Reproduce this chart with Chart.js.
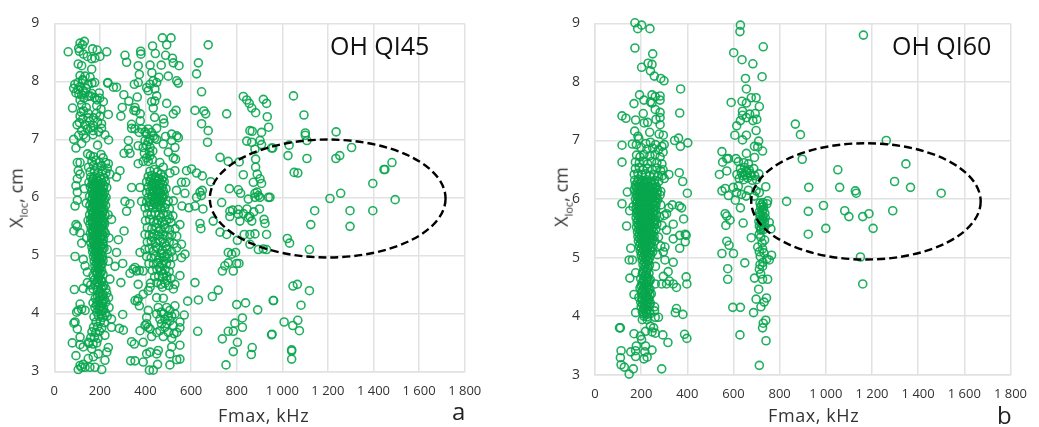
<!DOCTYPE html>
<html>
<head>
<meta charset="utf-8">
<title>OH QI45 / OH QI60</title>
<script src="https://cdn.jsdelivr.net/npm/chart.js@4/dist/chart.umd.min.js"></script>
<style>
  html, body { margin: 0; background: #fff; }
  #page { position: relative; width: 1039px; height: 427px; overflow: hidden; font-family: "Open Sans", sans-serif; color: #262626; }
  canvas { position: absolute; top: 0; filter: blur(0.35px); }
  .lbl { position: absolute; white-space: nowrap; }
  .name { font-size: 25px; color: #111; }
  .axis-x { font-size: 18px; letter-spacing: 0.6px; color: #333; }
  .axis-y { font-size: 18px; color: #333; transform: translate(-50%, -50%) rotate(-90deg); }
  .axis-y sub { font-size: 11px; }
  .panel { font-size: 24px; color: #222; }
</style>
</head>
<body>
<div id="page">
  <canvas id="chartA" style="left:0"></canvas>
  <canvas id="chartB" style="left:540px"></canvas>
  <div class="lbl name" style="left:330px;top:28px">OH QI45</div>
  <div class="lbl name" style="left:892px;top:28px">OH QI60</div>
  <div class="lbl axis-y" style="left:17px;top:198px">X<sub>loc</sub>, cm</div>
  <div class="lbl axis-y" style="left:562px;top:197px">X<sub>loc</sub>, cm</div>
  <div class="lbl axis-x" style="left:218px;top:403px">Fmax, kHz</div>
  <div class="lbl axis-x" style="left:768px;top:403px">Fmax, kHz</div>
  <div class="lbl panel" style="left:452px;top:394px">a</div>
  <div class="lbl panel" style="left:997px;top:398px">b</div>
</div>
<script>
const xTicks = ['0', '200', '400', '600', '800', '1 000', '1 200', '1 400', '1 600', '1 800'];
const yTicks = [3, 4, 5, 6, 7, 8, 9];

// points, [Fmax kHz, Xloc cm]
const qi45LeftTop = [[113,8.66],[132,8.69],[107,8.57],[124,8.63],[168,8.56],[188,8.54],[230,8.51],[61,8.51],[110,8.52],[128,8.47],[145,8.43],[164,8.39],[200,8.43],[178,8.4],[105,8.3],[120,8.27],[164,8.21],[113,8.1],[135,8.09],[157,8.07],[124,8.03],[90,7.95],[85,7.88],[104,7.98],[126,8.01],[148,7.95],[165,7.97],[177,7.98],[235,7.98],[104,7.86],[126,7.84],[113,7.91],[140,7.88],[95,7.8],[120,7.77],[135,7.8],[150,7.74],[177,7.72],[165,7.79],[199,7.71],[188,7.68],[215,7.65],[113,7.68],[120,7.6],[80,7.54],[128,7.49],[186,7.58],[205,7.52],[140,7.55],[113,7.4],[150,7.37],[200,7.4],[237,7.43],[172,7.37],[125,7.35],[100,7.25],[134,7.25],[110,7.29],[170,7.24],[207,7.27],[155,7.31],[190,7.3],[120,7.15],[170,7.15],[207,7.19],[145,7.18],[85,7],[107,7.07],[128,7.08],[170,7.08],[222,7.08],[95,6.85],[120,6.93],[190,6.9],[238,6.99],[158,7.75],[197,7.8],[108,7.78],[130,7.71],[148,7.45],[185,7.45],[118,7.47],[160,7.2],[195,7.13],[138,7.02]];
const qi45Core = [[146,6.75],[158,6.72],[172,6.7],[205,6.74],[214,6.68],[225,6.6],[165,6.62],[183,6.64],[198,6.6],[150,6.52],[172,6.55],[190,6.52],[208,6.54],[232,6.5],[157,6.44],[176,6.46],[193,6.42],[211,6.45],[226,6.42],[160,6.35],[174,6.36],[186,6.33],[200,6.36],[218,6.34],[152,6.26],[168,6.28],[181,6.25],[195,6.27],[210,6.25],[224,6.27],[158,6.18],[172,6.2],[186,6.17],[199,6.19],[214,6.16],[164,6.1],[177,6.12],[190,6.09],[204,6.11],[220,6.08],[155,6.02],[170,6.04],[183,6.01],[197,6.03],[212,6],[162,5.94],[176,5.95],[189,5.93],[203,5.96],[218,5.92],[156,5.86],[170,5.87],[183,5.85],[196,5.87],[210,5.84],[225,5.86],[162,5.78],[175,5.8],[188,5.77],[201,5.79],[215,5.76],[155,5.7],[168,5.71],[181,5.69],[194,5.71],[207,5.68],[222,5.7],[160,5.62],[174,5.63],[187,5.61],[200,5.63],[214,5.6],[156,5.54],[169,5.55],[182,5.53],[195,5.55],[208,5.52],[221,5.54],[162,5.46],[176,5.47],[189,5.45],[202,5.47],[215,5.44],[158,5.38],[171,5.39],[184,5.37],[197,5.39],[210,5.36],[224,5.38],[164,5.3],[177,5.31],[190,5.29],[203,5.31],[216,5.28],[160,5.22],[173,5.23],[186,5.21],[199,5.23],[212,5.2],[165,5.14],[178,5.15],[191,5.13],[204,5.15],[218,5.12],[168,5.06],[181,5.07],[194,5.05],[207,5.07],[172,4.98],[185,4.99],[198,4.97],[211,4.99],[175,4.9],[188,4.91],[201,4.89],[214,4.91],[178,4.82],[191,4.83],[204,4.81],[181,4.74],[194,4.75],[208,4.73],[170,4.66],[186,4.67],[199,4.65],[214,4.67],[176,4.58],[192,4.59],[205,4.57],[160,4.49],[180,4.5],[198,4.51],[218,4.48],[170,4.42],[188,4.41],[206,4.43],[226,4.42],[196,4.34],[214,4.33],[230,4.35],[180,4.26],[200,4.27],[220,4.25],[238,4.27],[170,4.18],[188,4.19],[208,4.17],[226,4.19],[178,4.1],[197,4.11],[216,4.09],[240,4.1],[186,4.02],[205,4.03],[224,4.01],[174,3.94],[194,3.95],[213,3.93],[232,3.95],[183,3.85],[202,3.86],[220,3.84],[172,3.76],[190,3.77],[208,3.75],[165,3.68],[182,3.67],[198,3.69],[160,3.58],[176,3.59],[192,3.57],[152,3.48],[170,3.47],[186,3.49]];
const qi45CoreFill = [[170,6.32],[188,6.29],[205,6.31],[166,6.23],[176,6.22],[191,6.21],[203,6.23],[218,6.2],[168,6.14],[182,6.13],[196,6.15],[209,6.12],[175,6.06],[186,6.05],[201,6.07],[214,6.04],[166,5.98],[180,5.99],[193,5.97],[207,5.99],[220,5.97],[172,5.9],[183,5.89],[197,5.91],[210,5.89],[166,5.82],[179,5.83],[192,5.81],[205,5.83],[218,5.8],[170,5.74],[184,5.75],[197,5.73],[211,5.74],[166,5.66],[177,5.67],[190,5.65],[203,5.67],[216,5.64],[167,5.58],[180,5.59],[193,5.57],[206,5.59],[218,5.57],[172,5.5],[185,5.51],[198,5.49],[212,5.51],[167,5.42],[180,5.43],[193,5.41],[206,5.43],[219,5.41],[174,5.34],[187,5.35],[200,5.33],[213,5.34],[170,5.26],[183,5.27],[196,5.25],[209,5.27],[175,5.18],[188,5.19],[201,5.17],[214,5.19],[172,5.1],[185,5.11],[198,5.09],[211,5.11],[178,5.02],[191,5.03],[204,5.01],[182,4.95],[195,4.94],[208,4.95],[184,4.86],[197,4.87],[210,4.85],[187,4.78],[200,4.77],[189,4.7],[202,4.69],[196,4.62],[186,4.53],[208,4.54],[192,4.45],[212,4.46],[204,4.37],[190,4.3],[210,4.29],[196,4.22],[214,4.21],[186,4.14],[204,4.13],[196,4.06],[214,4.05],[206,3.98]];
const qi45LeftSide = [[101,6.6],[113,6.6],[105,6.46],[101,6.32],[113,6.4],[95,6.2],[101,6.09],[101,5.95],[91,5.85],[237,6.58],[244,6.4],[230,6.17],[227,6],[95,5.53],[101,5.5],[86,5.42],[113,5.39],[120,5.21],[91,4.98],[127,4.93],[135,4.82],[145,4.71],[88,4.41],[127,4.43],[145,4.53],[156,4.39],[113,4.16],[105,4.05],[120,4.07],[98,4.02],[135,4.05],[91,3.85],[86,3.83],[101,3.73],[79,3.49],[113,3.59],[113,3.46],[127,3.42],[149,3.5],[164,3.39],[95,3.27],[113,3.1],[127,3.12],[105,3.03],[120,3.07],[135,3.07],[156,3.07],[178,3.07],[208,3.03],[149,3.22],[171,3.25],[193,3.3],[222,3.19],[230,3.33],[237,3.41],[222,3.62],[251,3.76],[251,3.9],[300,3.98],[285,3.74],[303,3.71],[273,5.05],[300,4.86],[266,4.81],[292,4.53],[244,4.59],[281,5.27],[306,5.42],[251,5.62],[317,5.76],[237,4.9],[273,6.35],[288,6.46],[140,5.9],[132,6.15],[236,5.7],[240,5.3],[232,5.1],[148,5.6],[142,5.3]];
const qi45MidTop = [[310,8.45],[317,8.33],[379,8.52],[380,8.47],[368,8.27],[373,8.12],[420,8.28],[431,8.61],[443,8.48],[474,8.75],[512,8.75],[493,8.63],[488,8.45],[518,8.4],[522,8.32],[547,8.27],[469,8.28],[428,8.15],[500,8.09],[459,8.07],[537,8.01],[544,7.97],[351,7.95],[368,7.98],[405,7.89],[420,7.95],[434,8.01],[449,7.98],[441,7.87],[412,7.84],[305,7.77],[327,7.66],[364,7.73],[273,7.9],[234,7.97],[259,7.9],[449,7.75],[427,7.65],[441,7.66],[493,7.62],[298,7.55],[354,7.55],[358,7.49],[349,7.5],[434,7.54],[534,7.5],[522,7.44],[292,7.4],[377,7.44],[440,7.38],[478,7.35],[481,7.28],[377,7.32],[339,7.26],[339,7.19],[354,7.18],[383,7.18],[412,7.18],[449,7.19],[373,7.12],[405,7.09],[434,7.06],[420,7],[449,7],[515,7.09],[488,7.05],[537,7.06],[544,7.03],[515,6.98],[478,6.92],[325,6.98],[325,6.83],[306,6.76],[332,6.76],[368,6.89],[390,6.86],[405,6.9],[420,6.86],[529,6.86],[500,6.78],[522,6.68],[532,6.66],[395,6.76],[405,6.68],[420,6.72],[412,6.62],[390,6.62],[430,6.65],[398,7.13],[426,7.12],[440,7.02],[412,6.96],[432,6.8],[398,6.98],[418,6.78]];
const qi45MidCluster = [[368,6.58],[376,6.17],[383,5.93],[339,6.17],[310,5.93],[332,5.89],[507,6.42],[529,6.46],[522,5.94],[478,6],[500,5.94],[463,6.6],[478,6.52],[420,6.45],[438,6.48],[452,6.44],[468,6.4],[412,6.36],[428,6.38],[445,6.35],[460,6.33],[478,6.35],[405,6.27],[420,6.28],[435,6.26],[450,6.28],[465,6.25],[482,6.27],[412,6.18],[427,6.2],[442,6.17],[457,6.19],[472,6.16],[490,6.15],[405,6.08],[420,6.1],[435,6.08],[450,6.09],[465,6.07],[482,6.05],[412,6],[428,6.01],[443,5.99],[458,6],[473,5.98],[405,5.92],[420,5.92],[436,5.91],[452,5.93],[468,5.9],[490,5.88],[398,5.82],[415,5.84],[432,5.82],[450,5.83],[466,5.81],[484,5.82],[505,5.8],[426,6.32],[442,6.3],[456,6.32],[472,6.3],[432,6.22],[447,6.23],[461,6.21],[476,6.22],[434,6.14],[449,6.13],[463,6.12],[478,6.11],[428,6.05],[443,6.04],[457,6.05],[471,6.03],[438,5.96],[453,5.97],[466,5.95],[426,5.87],[444,5.88],[460,5.87]];
const qi45MidLow = [[408,5.72],[425,5.7],[442,5.74],[460,5.7],[478,5.72],[498,5.7],[520,5.68],[400,5.6],[418,5.62],[436,5.58],[455,5.6],[474,5.57],[492,5.6],[512,5.57],[551,5.53],[408,5.48],[428,5.46],[448,5.48],[466,5.45],[486,5.47],[505,5.44],[530,5.46],[398,5.36],[416,5.35],[437,5.37],[456,5.34],[476,5.36],[496,5.33],[515,5.35],[537,5.33],[408,5.23],[425,5.25],[445,5.22],[464,5.24],[484,5.21],[504,5.23],[524,5.2],[537,5.13],[558,5.19],[376,5.05],[398,5.1],[416,5.12],[436,5.08],[454,5.12],[474,5.09],[494,5.11],[514,5.07],[573,5.02],[558,4.96],[405,4.98],[425,4.96],[444,4.99],[463,4.96],[483,4.98],[503,4.95],[522,4.97],[415,4.86],[435,4.85],[454,4.87],[472,4.84],[492,4.86],[510,4.84],[332,4.69],[346,4.76],[354,4.79],[361,4.73],[373,4.74],[390,4.73],[430,4.74],[450,4.76],[468,4.73],[486,4.75],[504,4.72],[551,4.65],[440,4.63],[458,4.64],[476,4.62],[494,4.64],[512,4.6],[368,4.5],[422,4.52],[450,4.53],[468,4.5],[486,4.52],[502,4.48],[529,4.5],[522,4.42],[390,4.33],[412,4.39],[420,4.45],[449,4.27],[478,4.26],[354,4.22],[368,4.25],[373,4.13],[364,4.21],[468,5.65],[484,5.53],[458,5.41],[476,5.28],[490,5.16],[470,5.03],[480,4.91],[462,4.79],[478,4.68],[494,4.57],[474,4.45],[458,4.92],[497,5.02],[445,5.15],[430,5.31],[450,5.55],[505,5.63]];
const qi45MidBottom = [[339,3.51],[351,3.47],[335,3.18],[354,3.18],[390,3.5],[376,3.7],[390,3.16],[417,3.02],[434,3.02],[453,3.12],[456,3.36],[449,3.3],[420,3.33],[405,3.3],[507,3.11],[507,3.3],[551,3.21],[537,3.2],[551,3.45],[515,3.42],[525,3.65],[551,3.75],[537,3.67],[515,3.57],[478,3.6],[427,3.6],[412,3.76],[398,3.79],[405,3.82],[420,3.73],[449,3.67],[463,3.7],[485,3.76],[500,3.67],[522,3.79],[551,3.85],[570,3.97],[529,3.99],[529,4.13],[507,4.05],[493,4.1],[478,3.99],[463,3.9],[485,3.9],[507,3.87],[493,3.82],[456,4.1],[449,3.99],[412,4.05],[405,3.93],[470,3.82],[500,3.95],[515,3.95],[470,4.02]];
const qi45Right = [[632,8.32],[624,8.13],[675,8.63],[646,7.82],[617,7.5],[656,7.49],[664,7.44],[646,7.27],[675,7.15],[672,6.95],[756,7.44],[829,7.74],[844,7.68],[855,7.62],[866,7.54],[883,7.46],[917,7.69],[931,7.62],[934,7.39],[940,7.21],[909,7.12],[858,7.15],[868,7.14],[844,6.97],[866,6.95],[902,6.98],[909,6.91],[880,6.83],[953,6.85],[727,6.69],[763,6.62],[811,6.61],[883,6.66],[883,6.52],[829,6.39],[890,6.4],[902,6.32],[909,6.24],[873,6.26],[686,6.27],[768,6.15],[807,6.13],[817,6.07],[890,6.09],[880,6],[902,6],[939,6],[851,5.97],[734,5.91],[770,5.76],[807,5.79],[895,6.03],[880,6.07],[580,6.46],[602,6.49],[624,6.42],[649,6.37],[558,6.26],[576,6.26],[536,6.12],[573,6.07],[639,6.09],[649,6.12],[624,6],[645,6.03],[560,5.85],[617,5.85],[590,5.82],[652,5.8],[617,4.53],[585,4.21],[632,4.23],[693,4.29],[719,4.4],[629,3.69],[737,3.56],[763,3.69],[785,3.69],[792,3.83],[825,3.92],[825,3.76],[803,3.5],[785,3.34],[868,3.41],[864,3.29],[753,3.11],[800,4.15],[839,4.18],[892,4.06],[960,4.22],[953,3.63],[763,5.05],[778,5.02],[795,5.05],[763,4.87],[748,4.82],[737,4.73],[785,4.73],[800,4.86],[810,4.86],[639,5.55],[643,5.46],[697,5.59],[727,5.4],[756,5.36],[770,5.67],[807,5.71],[858,5.67],[803,5.26],[833,5.36],[858,5.36],[880,5.37],[931,5.36],[924,5.55],[917,5.11],[931,5.1],[895,5.1],[858,5.19],[851,5.65],[866,5.59],[814,5.59],[782,5.78],[830,5.72],[875,5.75],[900,5.8],[920,5.62],[845,5.8]];
const qi45Ellipse = [[1049,7.75],[1095,7.42],[1101,7.11],[1101,7.07],[1108,6.98],[1236,7.13],[1030,6.9],[1304,6.86],[958,6.85],[1025,6.72],[1108,6.67],[1235,6.67],[1252,6.72],[1481,6.6],[1446,6.48],[1450,6.48],[1052,6.43],[1068,6.42],[1397,6.24],[1256,6.07],[1209,5.98],[946,6],[1495,5.96],[1297,5.77],[1397,5.77],[1142,5.77],[1125,5.53],[1297,5.5],[1022,5.29],[1032,5.21],[1119,5.1],[1047,4.47],[1066,4.5],[1119,4.39],[962,4.22],[1082,4.14],[1008,3.85],[1068,3.88],[1046,3.79],[1075,3.7],[955,3.64],[1041,3.37],[1041,3.35],[1041,3.21]];

const qi60LeftTop = [[173,9.01],[202,8.97],[185,8.91],[238,8.91],[173,8.58],[250,8.48],[230,8.32],[247,8.3],[202,8.25],[240,8.19],[257,8.1],[285,8.06],[299,8.02],[371,7.88],[193,7.78],[247,7.78],[282,7.76],[169,7.63],[212,7.69],[240,7.66],[261,7.75],[282,7.69],[247,7.64],[261,7.53],[282,7.48],[367,7.47],[209,7.46],[117,7.42],[134,7.38],[176,7.35],[264,7.36],[282,7.39],[213,7.3],[228,7.31],[282,7.27],[172,7.16],[237,7.14],[278,7.11],[296,7.09],[186,7.07],[190,7.03],[362,7.04],[345,7],[370,6.9],[402,6.96],[117,6.92],[162,6.94],[179,6.93],[117,6.63],[220,6.95],[240,6.97],[262,6.93],[290,6.9],[300,6.93],[200,6.88],[225,6.85],[250,6.87],[275,6.84],[295,6.8],[180,6.75],[195,6.72],[212,6.76],[238,6.74],[260,6.76],[282,6.72],[175,6.63],[192,6.62],[210,6.65],[228,6.6],[245,6.64],[268,6.62],[290,6.6],[365,6.45],[380,6.3],[400,6.1],[320,6.42],[295,6.5],[300,6.35]];
const qi60Core = [[175,6.52],[192,6.54],[208,6.5],[228,6.52],[248,6.5],[268,6.53],[285,6.48],[170,6.42],[186,6.44],[202,6.41],[220,6.43],[238,6.4],[256,6.42],[275,6.39],[292,6.4],[172,6.32],[188,6.34],[205,6.31],[222,6.33],[240,6.3],[258,6.32],[276,6.3],[175,6.24],[190,6.25],[205,6.23],[220,6.25],[235,6.22],[250,6.24],[266,6.21],[170,6.16],[184,6.17],[198,6.15],[212,6.17],[226,6.14],[240,6.16],[254,6.13],[270,6.15],[285,6.13],[178,6.08],[192,6.09],[206,6.07],[220,6.09],[234,6.06],[248,6.08],[262,6.05],[282,6.07],[175,6],[188,6.01],[202,5.99],[216,6.01],[230,5.98],[244,6],[258,5.97],[272,5.99],[180,5.92],[194,5.93],[208,5.91],[222,5.93],[236,5.9],[250,5.92],[264,5.89],[178,5.84],[192,5.85],[206,5.83],[220,5.85],[234,5.82],[248,5.84],[262,5.81],[180,5.76],[194,5.77],[208,5.75],[222,5.77],[236,5.74],[250,5.76],[266,5.73],[178,5.68],[192,5.69],[206,5.67],[220,5.69],[234,5.66],[248,5.68],[262,5.65],[182,5.6],[196,5.61],[210,5.59],[224,5.61],[238,5.58],[252,5.6],[268,5.57],[180,5.52],[194,5.53],[208,5.51],[222,5.53],[236,5.5],[250,5.52],[264,5.49],[184,5.44],[198,5.45],[212,5.43],[226,5.45],[240,5.42],[254,5.44],[186,5.36],[200,5.37],[214,5.35],[228,5.37],[242,5.34],[256,5.36],[188,5.28],[202,5.29],[216,5.27],[230,5.29],[244,5.26],[258,5.28],[192,5.2],[206,5.21],[220,5.19],[234,5.21],[248,5.18],[196,5.12],[210,5.13],[224,5.11],[238,5.13],[250,5.1],[200,5.04],[214,5.05],[228,5.03],[242,5.05],[204,4.96],[218,4.97],[232,4.95],[208,4.88],[222,4.89],[236,4.87],[212,4.8],[226,4.79],[205,4.72],[220,4.71],[234,4.73],[198,4.64],[212,4.63],[226,4.65],[240,4.62],[204,4.56],[218,4.55],[232,4.57],[195,4.48],[210,4.47],[224,4.49],[238,4.46],[202,4.4],[216,4.39],[230,4.41],[244,4.38],[190,4.32],[205,4.31],[220,4.33],[234,4.3],[198,4.24],[212,4.23],[226,4.25],[240,4.22],[200,4.16],[214,4.15],[230,4.17],[205,4.08],[220,4.07],[236,4.09],[212,4],[226,3.99]];
const qi60CoreFill = [[183,6.28],[198,6.28],[213,6.27],[228,6.28],[244,6.27],[259,6.26],[177,6.2],[191,6.21],[205,6.19],[219,6.21],[233,6.19],[247,6.2],[261,6.18],[184,6.12],[198,6.12],[212,6.11],[226,6.12],[240,6.1],[255,6.11],[269,6.1],[182,6.04],[196,6.05],[209,6.03],[223,6.05],[237,6.03],[251,6.04],[265,6.02],[182,5.96],[195,5.97],[209,5.95],[223,5.96],[237,5.94],[250,5.96],[264,5.94],[187,5.88],[201,5.89],[215,5.87],[229,5.89],[243,5.87],[257,5.88],[186,5.8],[199,5.81],[213,5.79],[227,5.81],[241,5.79],[255,5.8],[186,5.72],[200,5.73],[214,5.71],[228,5.73],[242,5.71],[256,5.72],[186,5.64],[200,5.65],[214,5.63],[228,5.65],[242,5.63],[257,5.64],[188,5.56],[202,5.57],[216,5.55],[230,5.57],[244,5.55],[258,5.56],[190,5.48],[204,5.49],[218,5.47],[232,5.49],[246,5.47],[192,5.4],[206,5.41],[220,5.39],[234,5.41],[248,5.39],[194,5.32],[208,5.33],[222,5.31],[236,5.33],[250,5.31],[196,5.24],[210,5.25],[224,5.23],[238,5.25],[200,5.16],[214,5.17],[228,5.15],[242,5.17],[204,5.08],[218,5.09],[232,5.07],[208,5],[222,5.01],[236,4.99],[214,4.92],[228,4.93],[216,4.84],[230,4.83],[208,4.76],[222,4.75],[214,4.68],[228,4.67],[208,4.6],[222,4.59],[236,4.6],[200,4.52],[214,4.51],[228,4.53],[204,4.44],[218,4.43],[232,4.45],[210,4.36],[224,4.35],[238,4.36],[204,4.28],[218,4.27],[232,4.28],[206,4.2],[220,4.19],[236,4.2],[212,4.12],[226,4.11],[210,4.04],[224,4.03],[238,4.04]];
const qi60LeftSide = [[106,3.8],[110,3.8],[113,3.41],[110,3.29],[113,3.17],[127,3.13],[166,3.1],[148,3.01],[289,3.1],[155,3.39],[179,3.49],[176,3.41],[176,3.31],[219,3.49],[216,3.39],[212,3.27],[226,3.3],[247,3.42],[169,3.7],[197,3.66],[202,3.6],[219,3.74],[240,3.83],[254,3.8],[247,3.73],[261,3.71],[294,3.68],[316,3.55],[388,3.69],[398,3.62],[205,3.94],[226,3.94],[261,3.98],[275,3.98],[176,4.06],[258,4.16],[258,4.09],[353,4.13],[348,4.06],[381,4.03],[395,4.67],[398,4.55],[353,4.49],[339,4.55],[322,4.6],[317,4.76],[296,4.68],[310,4.55],[289,4.55],[261,4.55],[339,4.92],[303,4.96],[296,5.1],[303,5.18],[367,5.16],[391,5.27],[395,5.38],[367,5.38],[391,5.4],[339,5.32],[339,5.57],[310,5.47],[384,5.66],[137,5.54],[155,5.16],[148,4.96],[162,4.96],[176,4.74],[151,4.65],[169,4.37],[117,5.92],[140,6.12],[165,5.87],[150,5.8],[285,5.9],[300,5.72],[320,5.85],[335,5.9],[365,5.88],[375,5.85],[290,5.55],[275,5.35],[285,5.2],[270,5.05],[262,4.85],[280,5.7],[310,5.75]];
const qi60Mid = [[630,8.97],[628,8.86],[601,8.5],[729,8.6],[637,8.38],[684,8.31],[652,8.06],[724,8.09],[656,7.88],[590,7.65],[637,7.67],[656,7.64],[677,7.73],[698,7.73],[712,7.58],[639,7.5],[639,7.43],[630,7.34],[656,7.39],[670,7.45],[694,7.46],[684,7.34],[701,7.36],[614,7.25],[698,7.17],[606,7.09],[656,7.09],[639,7.01],[709,6.99],[691,6.9],[705,6.89],[726,6.82],[656,6.78],[550,6.81],[571,6.69],[578,6.69],[611,6.69],[621,6.64],[553,6.63],[691,6.71],[571,6.48],[539,6.42],[645,6.62],[665,6.6],[630,6.52],[648,6.54],[668,6.5],[688,6.52],[615,6.42],[634,6.45],[652,6.41],[672,6.44],[692,6.4],[710,6.43],[625,6.35],[644,6.33],[662,6.36],[682,6.32],[550,6.14],[564,6.18],[578,6.06],[599,6.2],[614,6.11],[635,6.08],[621,6.22],[630,5.85],[564,5.75],[740,6.21],[748,5.97],[745,5.92],[698,6.14],[712,6.11],[571,5.71],[585,5.64],[567,5.55],[642,5.59],[571,5.28],[581,5.21],[550,5.07],[600,5.07],[575,4.81],[649,4.91],[575,4.63],[597,4.15],[630,4.15],[628,3.68],[677,5.34],[712,3.16],[741,3.58],[726,3.8],[729,3.88],[740,3.93],[687,4.06],[719,4.16],[733,4.24],[743,4.31],[698,4.29],[709,4.46],[691,4.65],[726,4.63],[748,4.63],[755,4.96],[765,5.04],[745,4.98],[712,4.8],[726,4.85],[718,4.72],[705,5.18],[712,5.1],[726,5.15],[762,5.49],[755,5.6],[728,4.92],[715,4.88],[735,5.3],[712,5.4],[718,5.47],[730,5.48],[712,5.54],[724,5.56],[736,5.53],[710,5.62],[722,5.64],[734,5.61],[715,5.7],[727,5.71],[738,5.68],[712,5.78],[724,5.79],[736,5.76],[718,5.86],[730,5.87],[715,5.93],[728,5.94],[608,5.98],[665,6.15],[655,6.05],[690,6.05],[655,6.48],[675,6.4],[640,6.4],[660,6.45],[700,6.33],[718,5.5],[720,5.6],[728,5.66],[716,5.74],[730,5.82],[722,5.9],[718,5.35],[724,5.25],[716,5.02],[732,5.08]];
const qi60Ellipse = [[1163,8.8],[868,7.28],[890,7.1],[1262,7.0],[898,6.68],[1052,6.5],[1347,6.6],[1298,6.3],[1367,6.2],[1128,6.14],[1132,6.1],[1500,6.1],[926,6.2],[1060,6.2],[830,5.96],[990,5.89],[924,5.79],[1082,5.8],[1100,5.7],[1160,5.7],[1187,5.75],[1290,5.8],[1000,5.5],[1205,5.5],[924,5.4],[1150,5.01],[1160,4.55]];

// excel style light grid and green open circles
const gridColor = '#e2e2e2';
const pointColor = 'rgba(8,166,78,0.9)';

// dashed ellipse given in data units, goes through the chart's scales
const ellipsePlugin = {
    id: 'dashedEllipse',
    afterDatasetsDraw(chart, args, opts) {
        const { x, y } = chart.scales;
        const cx = x.getPixelForValue(opts.cx);
        const cy = y.getPixelForValue(opts.cy);
        const rx = Math.abs(x.getPixelForValue(opts.cx + opts.rx) - cx);
        const ry = Math.abs(y.getPixelForValue(opts.cy + opts.ry) - cy);
        const ctx = chart.ctx;
        ctx.save();
        ctx.beginPath();
        ctx.ellipse(cx, cy, rx, ry, 0, 0, Math.PI * 2);
        ctx.setLineDash([8, 4]);
        ctx.lineWidth = 2.4;
        ctx.strokeStyle = '#000';
        ctx.stroke();
        ctx.restore();
    }
};

function toPoints(groups) {
    return groups.flat().map(p => ({ x: p[0], y: p[1] }));
}

function drawPanel(id, canvasW, axisW, pad, groups, ellipse) {
    const canvas = document.getElementById(id);
    canvas.style.width = canvasW + 'px';
    canvas.style.height = '427px';
    canvas.width = canvasW;
    canvas.height = 427;
    return new Chart(canvas.getContext('2d'), {
        type: 'scatter',
        data: {
            datasets: [{
                data: toPoints(groups),
                borderColor: pointColor,
                backgroundColor: 'transparent',
                borderWidth: 1.6,
                pointRadius: 4,
                clip: false
            }]
        },
        options: {
            responsive: false,
            animation: false,
            layout: { padding: pad },
            plugins: { legend: { display: false }, tooltip: { enabled: false }, dashedEllipse: ellipse },
            scales: {
                x: {
                    min: 0, max: 1800,
                    afterFit(s) { s.height = 36; },
                    afterBuildTicks(s) { s.ticks = xTicks.map((t, i) => ({ value: i * 200 })); },
                    grid: { color: gridColor, lineWidth: 1.5, drawTicks: false },
                    border: { color: gridColor, width: 1.5 },
                    ticks: {
                        padding: 12, color: '#333', maxRotation: 0, autoSkip: false,
                        font: { family: 'Open Sans', size: 13 },
                        callback: (v, i) => xTicks[i]
                    }
                },
                y: {
                    min: yTicks[0], max: yTicks[yTicks.length - 1],
                    afterFit(s) { s.width = axisW; },
                    grid: { color: gridColor, lineWidth: 1.5, drawTicks: false },
                    border: { color: gridColor, width: 1.5 },
                    ticks: {
                        stepSize: 1, padding: 15, color: '#333',
                        font: { family: 'Open Sans', size: 14 }
                    }
                }
            }
        },
        plugins: [ellipsePlugin]
    });
}

drawPanel('chartA', 510, 54.3, { left: 0, right: 45.3, top: 22.3, bottom: 19.7 },
    [qi45LeftTop, qi45Core, qi45CoreFill, qi45LeftSide, qi45MidTop, qi45MidCluster, qi45MidLow, qi45MidBottom, qi45Right, qi45Ellipse],
    { cx: 1199, cy: 5.98, rx: 517, ry: 1.017 });

drawPanel('chartB', 499, 55, { left: 0, right: 18.7, top: 15.3, bottom: 16.3 },
    [qi60LeftTop, qi60Core, qi60CoreFill, qi60LeftSide, qi60Mid, qi60Ellipse],
    { cx: 1174, cy: 5.96, rx: 497, ry: 0.993 });
</script>
</body>
</html>
